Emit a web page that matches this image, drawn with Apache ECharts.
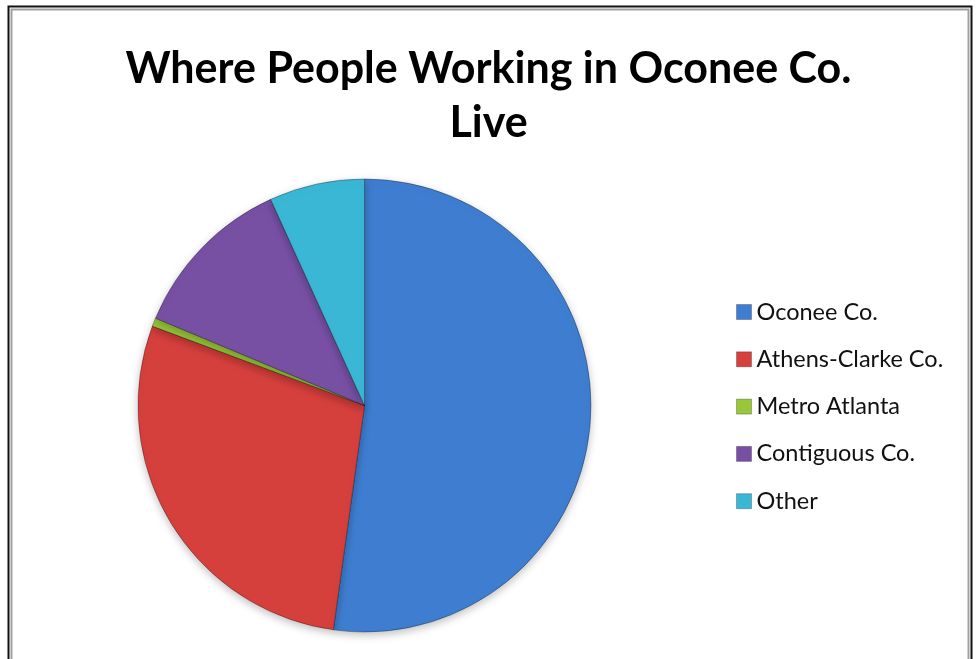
<!DOCTYPE html>
<html>
<head>
<meta charset="utf-8">
<script src="https://cdn.jsdelivr.net/npm/echarts@6/dist/echarts.min.js"></script>
<style>
html,body{margin:0;padding:0;background:#fff;}
#chart{width:977px;height:659px;}
</style>
</head>
<body>
<div id="chart"></div>
<script>
const titleText = 'Where People Working in Oconee Co.\nLive';
const categories = ['Oconee Co.', 'Athens-Clarke Co.', 'Metro Atlanta', 'Contiguous Co.', 'Other'];
const values = [52.2, 28.5, 0.6, 11.9, 6.8];
const colors = ['#3E7DCF', '#D5403D', '#98C83A', '#7750A4', '#3AB7D5'];

const chart = echarts.init(document.getElementById('chart'), null, {renderer: 'canvas'});

chart.setOption({
  animation: false,
  backgroundColor: '#fff',
  color: colors,
  title: {
    text: titleText,
    left: 'center',
    top: 37,
    textStyle: {
      fontFamily: 'Lato',
      fontWeight: 'bold',
      fontSize: 43,
      lineHeight: 54,
      color: '#000'
    }
  },
  legend: {
    orient: 'vertical',
    left: 731,
    top: 295,
    itemWidth: 15,
    itemHeight: 15,
    itemGap: 23.3,
    icon: 'rect',
    data: categories,
    itemStyle: {borderColor: 'rgba(0,0,0,0.25)', borderWidth: 1},
    textStyle: {
      fontFamily: 'Lato',
      fontSize: 23.5,
      lineHeight: 24,
      color: '#111'
    }
  },
  graphic: [
    {type: 'rect', shape: {x: 8.5, y: 6.5, width: 963, height: 700}, style: {fill: 'none', stroke: '#111', lineWidth: 2}, silent: true},
    {type: 'rect', shape: {x: 11.5, y: 9.5, width: 957, height: 700}, style: {fill: 'none', stroke: '#a0a0a0', lineWidth: 2}, silent: true}
  ],
  series: [{
    type: 'pie',
    center: [364.5, 405.5],
    radius: 226.5,
    startAngle: 90,
    clockwise: true,
    label: {show: false},
    labelLine: {show: false},
    emphasis: {disabled: true},
    itemStyle: {
      borderColor: 'rgba(0,0,0,0.3)',
      borderWidth: 1,
      shadowBlur: 8,
      shadowOffsetY: 3,
      shadowColor: 'rgba(0,0,0,0.25)'
    },
    data: categories.map((name, i) => ({name: name, value: values[i]}))
  }]
});
</script>
</body>
</html>
